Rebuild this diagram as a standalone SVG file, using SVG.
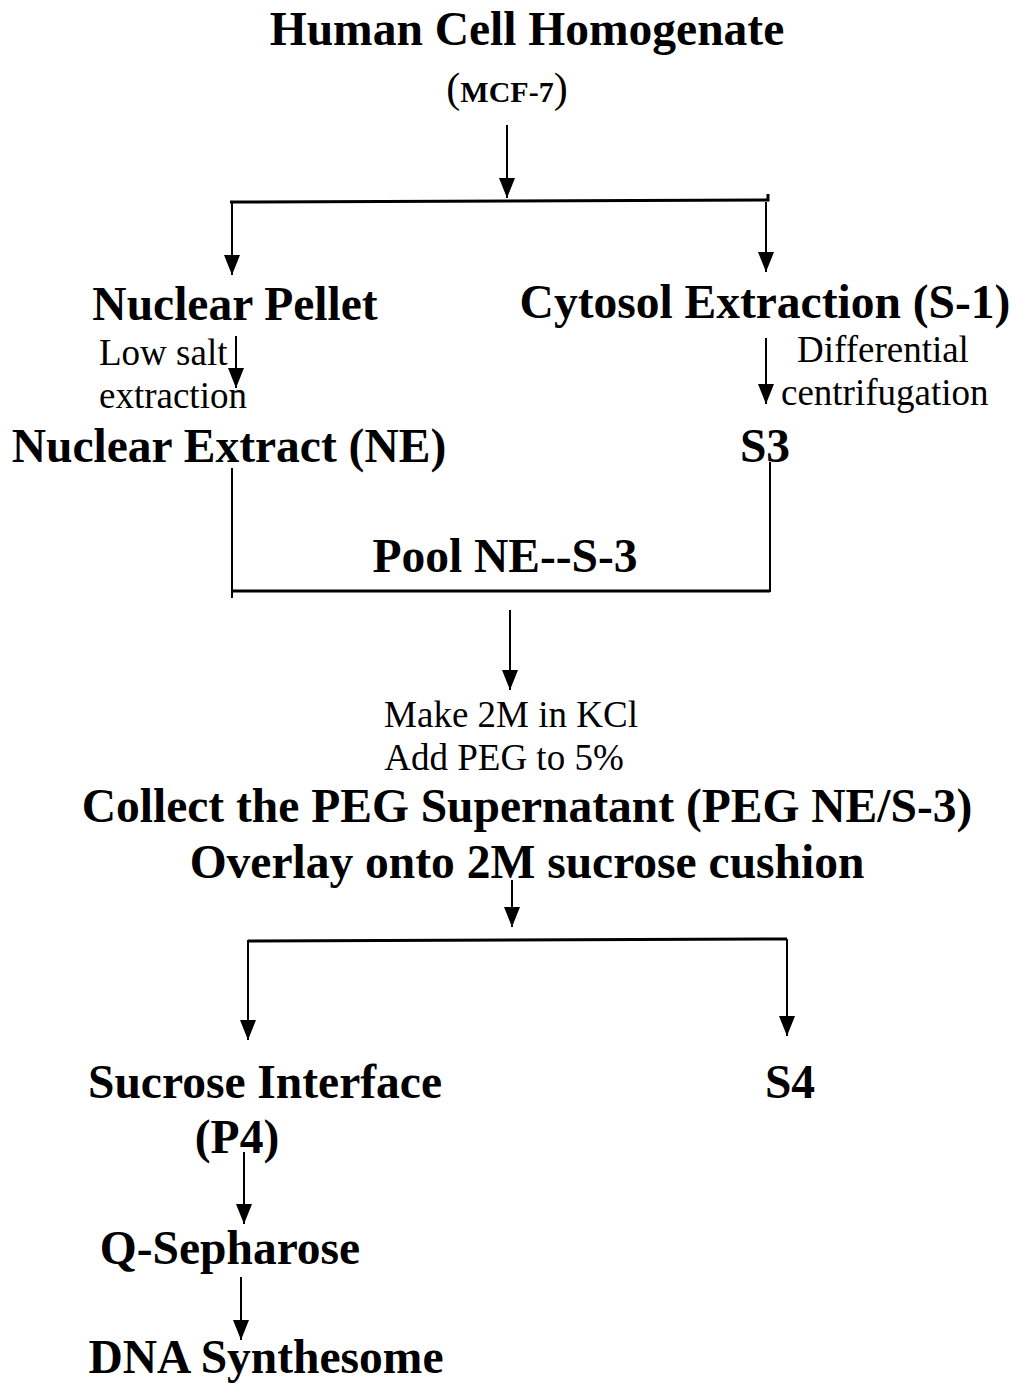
<svg xmlns="http://www.w3.org/2000/svg" width="1016" height="1384" viewBox="0 0 1016 1384">
<style>
text{font-family:"Liberation Serif","Times New Roman",serif;fill:#000}
.b{font-weight:bold;font-size:47.5px;text-anchor:middle}
.s{font-size:37px}
.c{font-size:37px;text-anchor:middle}
.ln{stroke:#000;stroke-width:2;fill:none}
.hl{stroke:#000;stroke-width:3;fill:none}
</style>
<defs>
<marker id="ah" viewBox="0 0 20 16" refX="20" refY="8" markerWidth="20" markerHeight="16" markerUnits="userSpaceOnUse" orient="auto">
<path d="M0,0 L20,8 L0,16 Z" fill="#000"/>
</marker>
</defs>
<rect width="1016" height="1384" fill="#fff"/>
<g id="connectors">
<line class="ln" x1="507" y1="125" x2="507" y2="198" marker-end="url(#ah)"/>
<polyline class="hl" points="230,202 768,200 768,194"/>
<line class="ln" x1="232" y1="202" x2="232" y2="275" marker-end="url(#ah)"/>
<line class="ln" x1="766" y1="202" x2="766" y2="272" marker-end="url(#ah)"/>
<line class="ln" x1="236" y1="336" x2="236" y2="388" marker-end="url(#ah)"/>
<line class="ln" x1="766" y1="338" x2="766" y2="404" marker-end="url(#ah)"/>
<polyline class="ln" points="232,468 232,598"/>
<polyline class="ln" points="770,462 770,592"/>
<line class="hl" x1="232" y1="591" x2="770" y2="591"/>
<line class="ln" x1="510" y1="610" x2="510" y2="690" marker-end="url(#ah)"/>
<line class="ln" x1="512" y1="880" x2="512" y2="927" marker-end="url(#ah)"/>
<line class="hl" x1="248" y1="941" x2="787" y2="939"/>
<line class="ln" x1="248" y1="940" x2="248" y2="1040" marker-end="url(#ah)"/>
<line class="ln" x1="787" y1="939" x2="787" y2="1036" marker-end="url(#ah)"/>
<line class="ln" x1="244" y1="1152" x2="244" y2="1224" marker-end="url(#ah)"/>
<line class="ln" x1="241" y1="1277" x2="241" y2="1340" marker-end="url(#ah)"/>
</g>
<g id="n-homogenate">
<text class="b" x="527" y="45">Human Cell Homogenate</text>
<text x="507" y="102" text-anchor="middle"><tspan font-size="42">(</tspan><tspan font-size="30" font-weight="bold">MCF-7</tspan><tspan font-size="42">)</tspan></text>
</g>
<g id="n-pellet"><text class="b" x="235" y="320">Nuclear Pellet</text></g>
<g id="n-cytosol"><text class="b" x="765" y="318">Cytosol Extraction (S-1)</text></g>
<g id="l-lowsalt">
<text class="s" x="99" y="365">Low salt</text>
<text class="s" x="99" y="408">extraction</text>
</g>
<g id="l-diff">
<text class="s" x="797" y="362">Differential</text>
<text class="s" x="781" y="405">centrifugation</text>
</g>
<g id="n-ne"><text class="b" x="229" y="462">Nuclear Extract (NE)</text></g>
<g id="n-s3"><text class="b" x="765" y="462">S3</text></g>
<g id="n-pool"><text class="b" x="505" y="572">Pool NE--S-3</text></g>
<g id="l-kcl">
<text class="c" x="511" y="727">Make 2M in KCl</text>
<text class="c" x="504" y="770">Add PEG to 5%</text>
</g>
<g id="n-peg">
<text class="b" x="527" y="822">Collect the PEG Supernatant (PEG NE/S-3)</text>
<text class="b" x="527" y="878">Overlay onto 2M sucrose cushion</text>
</g>
<g id="n-p4">
<text class="b" x="265" y="1098">Sucrose Interface</text>
<text class="b" x="237" y="1153">(P4)</text>
</g>
<g id="n-s4"><text class="b" x="790" y="1098">S4</text></g>
<g id="n-q"><text class="b" x="230" y="1264">Q-Sepharose</text></g>
<g id="n-dna"><text class="b" x="266" y="1373">DNA Synthesome</text></g>
</svg>
